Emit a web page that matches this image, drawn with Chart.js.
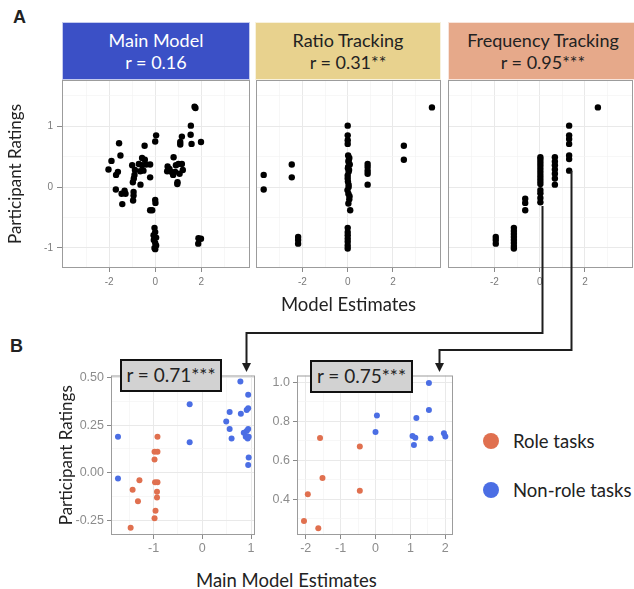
<!DOCTYPE html>
<html>
<head>
<meta charset="utf-8">
<title>Model estimates vs participant ratings</title>
<script src="https://cdn.jsdelivr.net/npm/chart.js@4.4.1/dist/chart.umd.min.js"></script>
<style>
  html, body { margin: 0; padding: 0; background: #fff; overflow: hidden; }
  #page { position: relative; width: 634px; height: 589px; overflow: hidden; font-family: Lato, "Open Sans", sans-serif; color: #222; }
  #page canvas { position: absolute; }
  .tag { position: absolute; font: bold 18px "Liberation Sans", Arial, sans-serif; }
  .strip { position: absolute; top: 22px; height: 58px; box-sizing: border-box; text-align: center;
           font-size: 18px; line-height: 22px; padding-top: 6px; border: 1px solid rgba(255,255,255,0.7); }
  .rbox { position: absolute; z-index: 5; box-sizing: border-box; background: #d2d2d2; border: 2px solid #111;
          font-size: 19px; line-height: 28px; text-align: center; }
  .lab { position: absolute; font-size: 18.5px; line-height: 22px; white-space: nowrap; }
  .dot { position: absolute; width: 16px; height: 16px; border-radius: 50%; }
  svg { position: absolute; left: 0; top: 0; z-index: 6; }
</style>
</head>
<body>
<div id="page">
  <div class="tag" style="left:13px;top:7px">A</div>
  <div class="tag" style="left:10px;top:336px">B</div>

  <div class="strip" style="left:62px;width:188px;background:#3b50c6;color:#fff">Main Model<br>r = 0.16</div>
  <div class="strip" style="left:255px;width:186px;background:#e8d28e">Ratio Tracking<br>r = 0.31**</div>
  <div class="strip" style="left:448px;width:190px;background:#e6a98a">Frequency Tracking<br>r = 0.95***</div>

  <div class="rbox" style="left:120px;top:359px;width:102px;height:33px">r = 0.71***</div>
  <div class="rbox" style="left:310px;top:360px;width:103px;height:33px">r = 0.75***</div>

  <div class="lab" style="left:196px;top:569px">Main Model Estimates</div>

  <div class="dot" style="left:483px;top:433px;background:#e0704f"></div>
  <div class="lab" style="left:513px;top:430px">Role tasks</div>
  <div class="dot" style="left:483px;top:482px;background:#4b6ee4"></div>
  <div class="lab" style="left:513px;top:479px">Non-role tasks</div>

  <!-- connector arrows from panel A (frequency tracking columns) to panel B -->
  <svg width="634" height="589">
    <polyline points="542.5,206 542.5,333 246.5,333 246.5,364" fill="none" stroke="#1e1e1e" stroke-width="2"/>
    <polygon points="242,363 251,363 246.5,372" fill="#1e1e1e"/>
    <polyline points="571.5,171 571.5,350 439.5,350 439.5,364" fill="none" stroke="#1e1e1e" stroke-width="2"/>
    <polygon points="435,363 444,363 439.5,372" fill="#1e1e1e"/>
  </svg>
</div>

<script>
// ---- data ----
const mainX = [1.71, 1.75, 1.55, 1.16, 1.54, 1.09, 1.09, 1.58, 1.99, 0.04, 0.0,
  -1.57, -1.51, -1.9, -2.03, -1.62, -1.7, -1.71, -1.33, -1.29, -1.46, -1.43,
  -0.94, -0.94, -0.96, -1.0, -0.88, -0.9, -0.93, -0.97, -0.64,
  -0.57, -0.45, -0.71, -0.57, -0.51, -0.65, -0.39, -0.22, -0.46, -0.22,
  0.0, 0.01, -0.22, -0.13,
  -0.03, 0.0, -0.07, 0.04, -0.06, 0.0, 0.04, -0.03, 0.0,
  1.88, 1.99, 1.87,
  0.8, 0.54, 0.62, 0.52, 0.7, 0.78, 0.97, 0.96, 0.9, 1.01, 1.16, 1.2, 1.06, 0.87];
const mainY = [1.32, 1.3, 1.01, 0.83, 0.86, 0.74, 0.7, 0.71, 0.74, 0.85, 0.75,
  0.72, 0.52, 0.43, 0.29, 0.25, 0.2, -0.04, -0.06, -0.11, -0.11, -0.28,
  -0.08, -0.14, -0.22, 0.36, 0.28, 0.2, 0.14, 0.08, 0.04,
  0.48, 0.45, 0.38, 0.36, 0.27, 0.26, 0.37, 0.37, 0.68, 0.16,
  -0.21, -0.26, -0.38, -0.38,
  -0.67, -0.74, -0.79, -0.83, -0.87, -0.92, -0.96, -1.0, -1.02,
  -0.84, -0.85, -0.93,
  0.49, 0.34, 0.3, 0.26, 0.25, 0.2, 0.08, 0.05, 0.36, 0.38, 0.38, 0.28, 0.22, 0.25];

const ratioX = [-3.71, -3.71, -2.47, -2.47, -2.19, -2.19, -2.19,
  0.0, 0.0, 0.0, 0.0, 0.02, 0.07, 0.03, 0.09, 0.01, 0.04, 0.0, 0.01, 0.04, -0.01, 0.03, 0.07, 0.03, 0.11,
  0.05, 0.02, 0.06, 0.0, 0.04, 0.08,
  0.0, 0.0, 0.0, 0.0, 0.0, 0.0, 0.0,
  0.88, 0.88, 0.88, 0.88, 0.88, 2.48, 2.48, 3.72];
const ratioY = [0.2, -0.04, 0.37, 0.16, -0.82, -0.87, -0.93,
  1.01, 0.85, 0.77, 0.71, 0.52, 0.48, 0.42, 0.37, 0.31, 0.25, 0.19, 0.09, 0.04, -0.05, -0.11, -0.2, -0.27, -0.38,
  0.45, 0.33, 0.28, 0.14, 0.0, -0.15,
  -0.67, -0.74, -0.79, -0.85, -0.9, -0.96, -1.01,
  0.38, 0.33, 0.27, 0.22, 0.04, 0.68, 0.45, 1.31];

const freqX = [-1.94, -1.94, -1.94,
  -1.14, -1.14, -1.14, -1.14, -1.14, -1.14, -1.14, -1.14,
  -0.64, -0.64, -0.64,
  0.03, 0.03, 0.03, 0.03, 0.03, 0.03, 0.03, 0.03, 0.03, 0.03, 0.03, 0.03, 0.03, 0.03,
  0.67, 0.67, 0.67, 0.67, 0.67, 0.67, 0.67,
  1.3, 1.3, 1.3, 1.3, 1.3, 1.3, 1.3,
  2.57];
const freqY = [-0.82, -0.87, -0.93,
  -0.67, -0.72, -0.77, -0.82, -0.87, -0.92, -0.97, -1.01,
  -0.19, -0.26, -0.38,
  0.49, 0.45, 0.4, 0.35, 0.3, 0.25, 0.2, 0.15, 0.1, 0.05, -0.05, -0.1, -0.18, -0.25,
  0.49, 0.42, 0.36, 0.29, 0.22, 0.14, 0.04,
  1.01, 0.85, 0.79, 0.71, 0.52, 0.46, 0.27,
  1.31];

// panel B, left
const roleX1 = [-0.92, -0.98, -0.92, -0.98, -1.29, -1.43, -1.32, -0.97, -0.92, -0.93, -0.93, -0.96, -0.98, -1.47];
const roleY1 = [0.19, 0.11, 0.11, 0.07, -0.04, -0.09, -0.15, -0.05, -0.05, -0.1, -0.13, -0.2, -0.24, -0.29];
const nonRoleX1 = [-1.73, -1.73, -0.26, -0.26, 0.78, 0.94, 0.56, 0.91, 0.94, 0.79, 0.49, 0.56, 0.6, 0.85, 0.91, 0.94, 0.89, 0.93, 0.95, 0.95, 0.94];
const nonRoleY1 = [0.19, -0.03, 0.36, 0.16, 0.48, 0.41, 0.32, 0.33, 0.34, 0.31, 0.27, 0.23, 0.18, 0.21, 0.22, 0.23, 0.19, 0.18, 0.19, 0.08, 0.04];

// panel B, right
const roleX2 = [-1.59, -0.45, -1.52, -0.45, -1.94, -2.05, -1.64];
const roleY2 = [0.714, 0.671, 0.51, 0.444, 0.427, 0.29, 0.253];
const nonRoleX2 = [1.53, 1.53, 1.17, 0.04, 0.0, 1.06, 1.14, 1.1, 1.58, 1.96, 2.0];
const nonRoleY2 = [0.995, 0.858, 0.817, 0.83, 0.745, 0.725, 0.715, 0.678, 0.712, 0.739, 0.722];

// ticks (major labelled, minor only gridlines)
const aTicksX = [-2, 0, 2], aMinorX = [-3, -1, 1, 3];
const aTicksY = [-1, 0, 1], aMinorY = [-0.5, 0.5, 1.5];
const b1TicksX = [-1, 0, 1], b1MinorX = [-1.5, -0.5, 0.5];
const b1TicksY = [-0.25, 0, 0.25, 0.5], b1MinorY = [-0.125, 0.125, 0.375];
const b2TicksX = [-2, -1, 0, 1, 2], b2MinorX = [-1.5, -0.5, 0.5, 1.5];
const b2TicksY = [0.4, 0.6, 0.8, 1.0], b2MinorY = [0.3, 0.5, 0.7, 0.9];

const ROLE = '#e0704f', NONROLE = '#4b6ee4';
const PAD = 10;

const pts = (xs, ys) => xs.map((x, i) => ({x: x, y: ys[i]}));

const framePlugin = {
  id: 'frame',
  afterDatasetsDraw(chart) {
    const a = chart.chartArea, ctx = chart.ctx;
    ctx.save();
    ctx.strokeStyle = '#9c9c9c';
    ctx.lineWidth = 1;
    ctx.strokeRect(a.left + 0.5, a.top + 0.5, a.right - a.left - 1, a.bottom - a.top - 1);
    ctx.restore();
  }
};

function axis(s, size) {
  const isMajor = c => c.tick && s.major.includes(c.tick.value);
  return {
    type: 'linear', min: s.min, max: s.max,
    afterBuildTicks: sc => {
      sc.ticks = s.major.concat(s.minor).sort((a, b) => a - b).map(v => ({value: v}));
    },
    afterFit: sc => { if (sc.isHorizontal()) sc.height = size; else sc.width = size; },
    ticks: {
      display: s.labels !== false, autoSkip: false, maxRotation: 0,
      padding: s.pad || 3,
      color: s.color || '#7a7a7a',
      font: {family: '"Liberation Sans", Arial, sans-serif', size: s.fontSize || 10},
      callback: v => s.major.includes(v) ? s.fmt(v) : ''
    },
    grid: {
      color: c => isMajor(c) ? '#e9e9e9' : '#f4f4f4',
      lineWidth: c => isMajor(c) ? 1 : 0.7,
      drawTicks: s.labels !== false,
      tickLength: s.tick || 4,
      tickColor: c => isMajor(c) ? '#8a8a8a' : 'rgba(0,0,0,0)'
    },
    border: {display: false},
    title: s.title || {display: false}
  };
}

// area = chart area in page pixels; yW/xH = space for the axes
function panel(area, yW, xH, datasets, xs, ys) {
  const c = document.createElement('canvas');
  const w = area.r - area.l + yW + 2 * PAD, h = area.b - area.t + xH + 2 * PAD;
  c.width = w; c.height = h;
  c.style.left = (area.l - yW - PAD) + 'px';
  c.style.top = (area.t - PAD) + 'px';
  c.style.width = w + 'px'; c.style.height = h + 'px';
  document.getElementById('page').appendChild(c);
  return new Chart(c, {
    type: 'scatter',
    data: {datasets: datasets},
    options: {
      responsive: false, animation: false, devicePixelRatio: 1,
      layout: {padding: PAD},
      plugins: {legend: {display: false}, tooltip: {enabled: false}},
      scales: {x: axis(xs, xH), y: axis(ys, yW)}
    },
    plugins: [framePlugin]
  });
}

const black = data => ({data: data, pointRadius: 3.2, pointHoverRadius: 3.2, borderWidth: 0, backgroundColor: '#000'});
const coloured = (data, col) => ({data: data, pointRadius: 3, pointHoverRadius: 3, borderWidth: 0, backgroundColor: col});

const yTitleFont = {family: 'Lato, sans-serif', size: 17};
const xTitleFont = {family: 'Lato, sans-serif', size: 18.5};
const intFmt = v => String(v);
const aX = {min: -4.05, max: 4.12, major: aTicksX, minor: aMinorX, fmt: intFmt, pad: 4, tick: 4};
const aYbase = {min: -1.33, max: 1.76, major: aTicksY, minor: aMinorY, fmt: intFmt};

panel({l: 62, t: 80, r: 250, b: 268}, 62, 30, [black(pts(mainX, mainY))], aX,
  Object.assign({}, aYbase, {pad: 4, tick: 5,
    title: {display: true, text: 'Participant Ratings', color: '#222', font: yTitleFont, padding: {top: 5, bottom: 0}}}));

panel({l: 256, t: 80, r: 441, b: 268}, 0, 48, [black(pts(ratioX, ratioY))],
  Object.assign({}, aX, {title: {display: true, text: 'Model Estimates', color: '#222', font: xTitleFont, padding: {top: 0, bottom: 0}}}),
  Object.assign({}, aYbase, {labels: false}));

panel({l: 448, t: 80, r: 633, b: 268}, 0, 30, [black(pts(freqX, freqY))], aX,
  Object.assign({}, aYbase, {labels: false}));

const bFont = {fontSize: 12.5, color: '#8c8c8c'};
panel({l: 111, t: 375, r: 255, b: 535}, 55, 25,
  [coloured(pts(roleX1, roleY1), ROLE), coloured(pts(nonRoleX1, nonRoleY1), NONROLE)],
  Object.assign({min: -1.873, max: 1.08, major: b1TicksX, minor: b1MinorX, fmt: intFmt, pad: 2, tick: 4}, bFont),
  Object.assign({min: -0.328, max: 0.512, major: b1TicksY, minor: b1MinorY, fmt: v => v.toFixed(2), pad: 3, tick: 4,
    title: {display: true, text: 'Participant Ratings', color: '#222', font: yTitleFont, padding: {top: 0, bottom: 0}}}, bFont));

panel({l: 297, t: 375, r: 453, b: 535}, 26, 25,
  [coloured(pts(roleX2, roleY2), ROLE), coloured(pts(nonRoleX2, nonRoleY2), NONROLE)],
  Object.assign({min: -2.25, max: 2.22, major: b2TicksX, minor: b2MinorX, fmt: intFmt, pad: 2, tick: 4}, bFont),
  Object.assign({min: 0.218, max: 1.034, major: b2TicksY, minor: b2MinorY, fmt: v => v.toFixed(1), pad: 3, tick: 4}, bFont));
</script>
</body>
</html>
